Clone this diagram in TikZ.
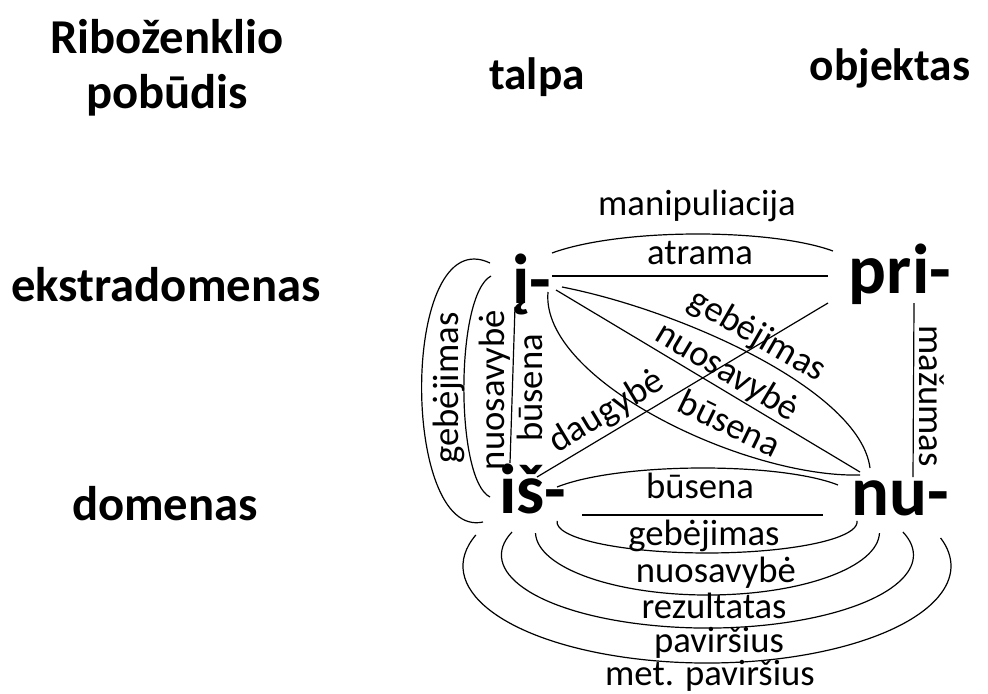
\documentclass[tikz,border=0pt]{standalone}
\usepackage{fontspec}
\setmainfont{Carlito}
\begin{document}
\begin{tikzpicture}[x=0.75pt,y=-0.75pt,
  rowhead/.style={font=\bfseries\fontsize{36.5}{41.25}\selectfont, inner sep=0pt, align=center},
  colhead/.style={font=\bfseries\fontsize{34}{41}\selectfont, inner sep=0pt},
  pref/.style={font=\bfseries\fontsize{53}{60}\selectfont, inner sep=0pt},
  lbl/.style={font=\fontsize{27.5}{33}\selectfont, inner sep=0pt},
  link/.style={line width=0.9pt, black}]
\useasboundingbox (0,0) rectangle (988,693);

% column and row headings
\node[rowhead, anchor=north] (kind) at (167,19) {Riboženklio\\pobūdis};
\node[colhead, anchor=base] (talpa) at (537,89) {talpa};
\node[colhead, anchor=base] (objektas) at (890,80) {objektas};
\node[rowhead, anchor=base] (ekstra) at (166,301) {ekstradomenas};
\node[rowhead, anchor=base] (domenas) at (165,520) {domenas};

% the four prefixes
\node[pref, anchor=base] (j)   at (532,303) {į-};
\node[pref, anchor=base] (pri) at (900,293) {pri-};
\node[pref, anchor=base] (is)  at (533,513) {iš-};
\node[pref, anchor=base] (nu)  at (900,515) {nu-};

% end points of the links around each prefix
\coordinate (j-arc)  at (552,253);
\coordinate (j-line) at (552,276);
\coordinate (j-d1)   at (562,287);
\coordinate (j-d2)   at (556,290);
\coordinate (j-d3)   at (548,292);
\coordinate (j-v)    at (515,307);
\coordinate (j-l1)   at (491,276);
\coordinate (j-l2)   at (490,263);
\coordinate (pri-arc)  at (833,251);
\coordinate (pri-line) at (828,276);
\coordinate (pri-d)    at (828,303);
\coordinate (pri-v)    at (914,303);
\coordinate (nu-d1) at (870,468);
\coordinate (nu-d2) at (860,472);
\coordinate (nu-d3) at (860,475);
\coordinate (nu-v)  at (913,477);
\coordinate (nu-arc)  at (838,485);
\coordinate (nu-line) at (823,515);
\coordinate (is-d)   at (537,477);
\coordinate (is-v)   at (510,463);
\coordinate (is-l1)  at (490,497);
\coordinate (is-l2)  at (483,522);
\coordinate (is-arc) at (557,487);
\coordinate (is-line) at (582,515);
\coordinate (is-b1) at (557.1,520.9);
\coordinate (is-b2) at (535.5,533.1);
\coordinate (is-b3) at (512,532);
\coordinate (is-b4) at (475.9,534.9);

% į- and pri-
\draw[link] (j-arc) .. controls (620,228) and (770,228) .. (pri-arc);
\draw[link] (j-line) -- (pri-line);
\node[lbl, anchor=base] (l-manip)  at (697,215) {manipuliacija};
\node[lbl, anchor=base] (l-atrama) at (700,264) {atrama};

% į- and nu-
\draw[link] (j-d1) .. controls (680,310) and (860,390) .. (nu-d1);
\draw[link] (j-d2) -- (nu-d2);
\draw[link] (j-d3) .. controls (540,380) and (745,478) .. (nu-d3);
\node[lbl, rotate=-30] (l-jnu1) at (757,336) {gebėjimas};
\node[lbl, rotate=-31] (l-jnu2) at (727,372) {nuosavybė};
\node[lbl, rotate=-26] (l-jnu3) at (730,423) {būsena};

% iš- and pri-
\draw[link] (is-d) -- (pri-d);
\node[lbl, rotate=31] (l-daug) at (607,412) {daugybė};

% pri- and nu-
\draw[link] (pri-v) -- (nu-v);
\node[lbl, rotate=-90] (l-maz) at (932,396) {mažumas};

% į- and iš-
\draw[link] (j-v) -- (is-v);
\draw[link] (j-l1) .. controls (455,295) and (455,480) .. (is-l1);
\draw[link] (j-l2) .. controls (400,220) and (400,540) .. (is-l2);
\node[lbl, rotate=90] (l-jis1) at (530,388) {būsena};
\node[lbl, rotate=90] (l-jis2) at (495,390) {nuosavybė};
\node[lbl, rotate=90] (l-jis3) at (449,388) {gebėjimas};

% iš- and nu-
\draw[link] (is-arc) .. controls (620,462) and (780,462) .. (nu-arc);
\draw[link] (is-line) -- (nu-line);
\draw[link] (is-b1) arc[start angle=178, end angle=362, x radius=112.5pt, y radius=23.25pt];
\draw[link] (is-b2) arc[start angle=181, end angle=359, x radius=129pt, y radius=47.25pt];
\draw[link] (is-b3) arc[start angle=161.6, end angle=378.4, x radius=154.5pt, y radius=54.75pt];
\draw[link] (is-b4) arc[start angle=161.3, end angle=376.8, x radius=183pt, y radius=72.75pt];
\node[lbl, anchor=base] (l-isnu1) at (700,498) {būsena};
\node[lbl, anchor=base] (l-isnu2) at (704,545) {gebėjimas};
\node[lbl, anchor=base] (l-isnu3) at (716,582) {nuosavybė};
\node[lbl, anchor=base] (l-isnu4) at (714,618) {rezultatas};
\node[lbl, anchor=base] (l-isnu5) at (719,652) {paviršius};
\node[lbl, anchor=base] (l-isnu6) at (710,685) {met. paviršius};
\end{tikzpicture}
\end{document}
